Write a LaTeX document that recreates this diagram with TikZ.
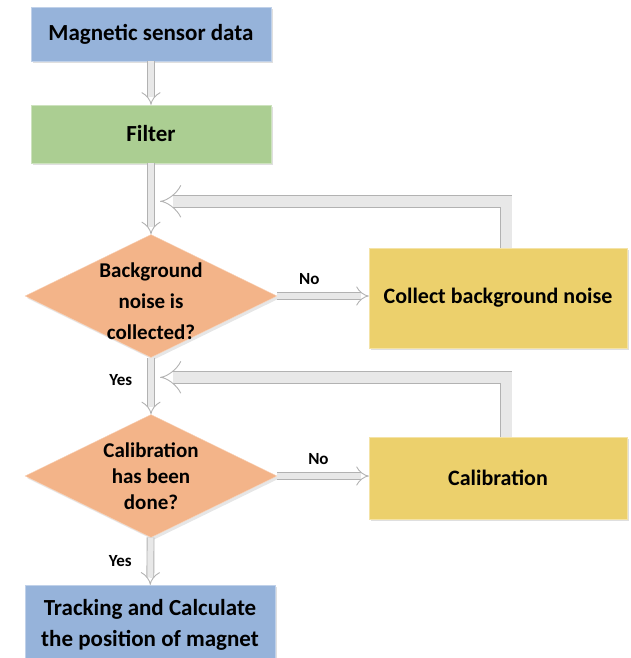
\documentclass[tikz,border=0pt]{standalone}
\usepackage{fontspec}
\setmainfont{Carlito}
\usetikzlibrary{shapes.geometric, arrows.meta, shadows}

\definecolor{boxblue}{RGB}{150,179,218}
\definecolor{boxgreen}{RGB}{171,206,146}
\definecolor{boxorange}{RGB}{243,180,137}
\definecolor{boxyellow}{RGB}{236,208,108}

\tikzstyle{process}=[rectangle, minimum width=240pt, minimum height=54pt, text centered, draw=boxblue!60!white, fill=boxblue, drop shadow={opacity=0.25}, font=\fontsize{23}{31}\selectfont\bfseries]
\tikzstyle{filterbox}=[process, minimum height=58pt, draw=boxgreen!60!white, fill=boxgreen]
\tikzstyle{endbox}=[process, minimum width=250pt, minimum height=80pt, align=center]
\tikzstyle{sidebox}=[process, minimum width=258pt, draw=boxyellow!60!white, fill=boxyellow, font=\fontsize{22}{30}\selectfont\bfseries]
\tikzstyle{decision}=[diamond, minimum width=252pt, minimum height=123pt, inner sep=0pt, draw=boxorange!60!white, fill=boxorange, drop shadow={opacity=0.2}]
\tikzstyle{dtext}=[align=center, font=\fontsize{21}{31}\selectfont\bfseries]
\tikzstyle{arrow}=[draw=gray!60, line width=0.9pt, double=gray!18, double distance=6pt, -{Implies[length=7pt, width=15pt]}]
\tikzstyle{fback}=[arrow, double distance=11pt, -{Implies[length=10pt, width=26pt]}]
\tikzstyle{tag}=[font=\fontsize{17}{20}\selectfont\bfseries]

\begin{document}
\begin{tikzpicture}[x=1pt, y=1pt, node distance=100pt]
\useasboundingbox (0,0) rectangle (631,-658);

\node(p0)[process] at (151,-34){Magnetic sensor data};
\node(p1)[filterbox, below of=p0]{Filter};
\node(d1)[decision, below of=p1, yshift=-62pt, label={[dtext, yshift=-5pt]center:Background\\noise is\\collected?}]{};
\node(c1)[sidebox, right of=d1, xshift=247pt, yshift=-2pt, minimum height=100pt]{Collect background noise};
\node(d2)[decision, below of=d1, yshift=-80pt, label={[dtext, font=\fontsize{21}{26}\selectfont\bfseries]center:Calibration\\has been\\done?}]{};
\node(c2)[sidebox, right of=d2, xshift=247pt, yshift=-2pt, minimum height=82pt]{Calibration};
\node(p2)[endbox, below of=d2, yshift=-49pt, xshift=-1pt]{Tracking and Calculate\\the position of magnet};

\coordinate(m1) at ([yshift=33pt]d1.north);
\coordinate(m2) at ([yshift=37pt]d2.north);

\draw[arrow](p0)--(p1);
\draw[arrow](p1)--(d1);
\draw[arrow](d1.east)--(d1.east -| c1.west) node[tag, pos=0.35, above=8pt]{No};
\draw[arrow](d1)--(d2) node[tag, pos=0.4, left=15pt]{Yes};
\draw[arrow](d2.east)--(d2.east -| c2.west) node[tag, pos=0.45, above=8pt]{No};
\draw[arrow](d2)--(p2) node[tag, midway, left=15pt]{Yes};
\draw[fback]([xshift=8pt]c1.north)|-([xshift=9pt]m1);
\draw[fback]([xshift=8pt]c2.north)|-([xshift=9pt]m2);

\end{tikzpicture}
\end{document}
